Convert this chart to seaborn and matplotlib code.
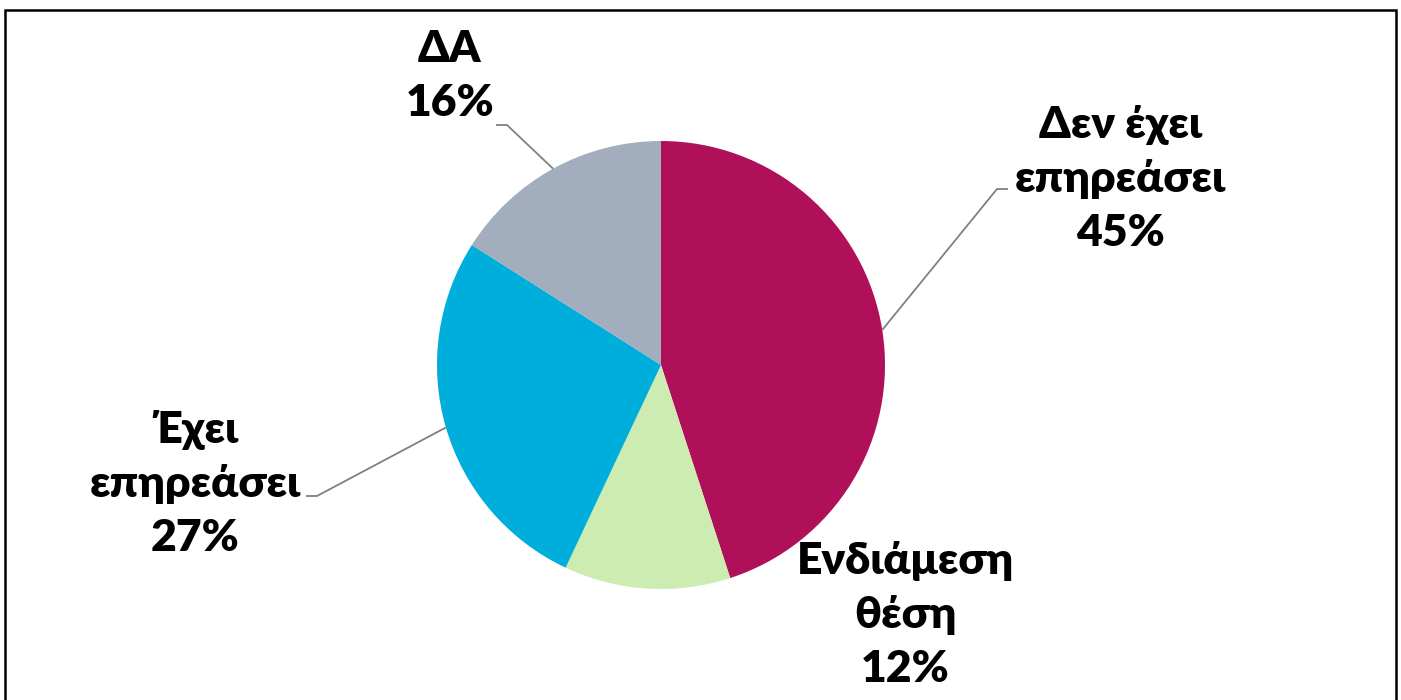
import numpy as np
import matplotlib
matplotlib.use("Agg")
import matplotlib.pyplot as plt
import seaborn as sns
from matplotlib.patches import Rectangle

categories = ["Δεν έχει\nεπηρεάσει", "Ενδιάμεση\nθέση", "Έχει\nεπηρεάσει", "ΔΑ"]
shares = [45, 12, 27, 16]
colors = ["#B01059", "#CCECB2", "#00AEDB", "#A2ADBD"]

sns.set_theme(style="white")
plt.rcParams["font.family"] = ["Lato", "Open Sans", "DejaVu Sans"]

W, H = 1401, 700
fig = plt.figure(figsize=(W / 100, H / 100), dpi=100)
ax = fig.add_axes([0, 0, 1, 1])


def py(y):
    """Convert a top-down pixel row to the upward data y coordinate."""
    return H - y


cx, cy, r = 661, py(365), 224
palette = sns.color_palette(colors)
wedges, _ = ax.pie(shares, colors=palette, startangle=90, counterclock=False,
                   center=(cx, cy), radius=r, frame=True,
                   wedgeprops=dict(linewidth=0))
ax.set_xlim(0, W)
ax.set_ylim(0, H)
ax.set_aspect("equal")
ax.axis("off")

# label block centres and leader elbows (pixel rows measured from the top)
label_pos = [(1120, 179), (905, 615), (195, 484), (450, 76)]
elbows = [((997, 189), (1008, 189)), None, ((317, 496), (306, 496)), ((507, 125), (496, 125))]

for w, cat, val, pos, elb in zip(wedges, categories, shares, label_pos, elbows):
    ax.text(pos[0], py(pos[1]), f"{cat}\n{val}%", ha="center", va="center",
            fontsize=32, fontweight="heavy", color="black", linespacing=1.42)
    if elb is not None:
        mid = np.deg2rad((w.theta1 + w.theta2) / 2)
        anchor = (cx + r * np.cos(mid), cy + r * np.sin(mid))
        ax.plot([anchor[0], elb[0][0], elb[1][0]],
                [anchor[1], py(elb[0][1]), py(elb[1][1])],
                color="#808080", lw=1.3, solid_capstyle="butt")

# chart frame, open at the bottom edge of the image
fig.patches.append(Rectangle((5 / W, -0.05), (1396 - 5) / W, (H - 10) / H + 0.05,
                             transform=fig.transFigure, fill=False,
                             edgecolor="black", linewidth=1.8))

fig.savefig("out.png", dpi=100, facecolor="white")
